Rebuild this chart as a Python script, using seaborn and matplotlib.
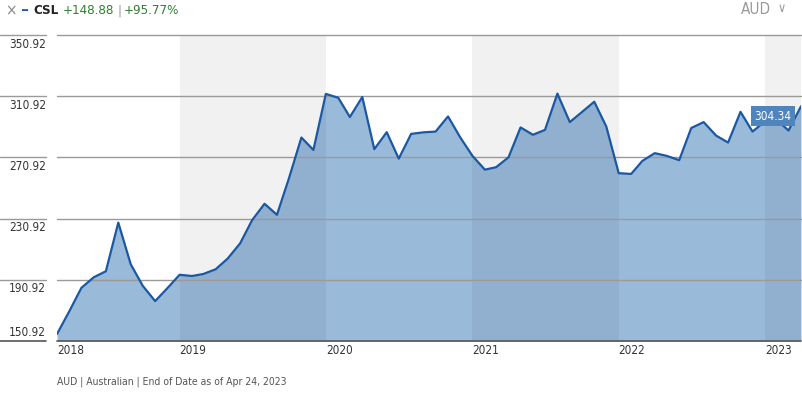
import numpy as np
import pandas as pd
import matplotlib
matplotlib.use("Agg")
import matplotlib.pyplot as plt
import matplotlib.transforms as mtransforms
import seaborn as sns

# ---------------- data ----------------
dates = pd.date_range("2018-03-01", periods=62, freq="MS")
prices = [
    155.46, 170.5, 185.7, 192.6, 196.5, 228.3, 201.1, 187.0, 177.0, 185.3,
    194.2, 193.4, 194.7, 197.8, 204.8, 214.7, 229.9, 240.6, 233.4, 257.3,
    283.9, 275.8, 312.4, 309.9, 297.3, 310.4, 276.3, 287.4, 270.1, 286.3,
    287.3, 287.8, 297.7, 284.2, 271.9, 262.9, 264.5, 271.0, 290.5, 285.7,
    288.9, 312.6, 294.0, 300.5, 307.3, 291.1, 260.6, 260.1, 268.6, 273.7,
    271.9, 269.1, 290.1, 294.0, 285.2, 280.6, 300.7, 287.8, 294.4, 295.0,
    288.5, 304.34,
]
y_ticks = [150.92, 190.92, 230.92, 270.92, 310.92, 350.92]
year_labels = ["2018", "2019", "2020", "2021", "2022", "2023"]
year_starts = pd.to_datetime(["2019-01-01", "2020-01-01", "2021-01-01",
                              "2022-01-01", "2023-01-01"])
shaded_years = [("2019-01-01", "2020-01-01"), ("2021-01-01", "2022-01-01"),
                ("2023-01-01", "2023-04-01")]
ticker = "CSL"
change_abs = "+148.88"
change_pct = "+95.77%"
currency = "AUD"
footer = "AUD | Australian | End of Date as of Apr 24, 2023"

df = pd.DataFrame({"date": dates, "price": prices})

# ---------------- style ----------------
sns.set_theme(style="white")
plt.rcParams["font.family"] = ["DejaVu Sans"]
plt.rcParams["font.stretch"] = "condensed"

W, H = 803, 393
fig = plt.figure(figsize=(W / 100, H / 100), dpi=100)
ax = fig.add_axes([57 / W, 52 / H, 744 / W, 306 / H])

LINE = "#1b58a3"
FILL = "#9abada"
GRID = "#9a9a9a"
TXT = "#333333"
GREEN = "#2e7d32"

ax.set_xlim(dates[0], dates[-1])
ax.set_ylim(y_ticks[0], y_ticks[-1])

ax.fill_between(df["date"], df["price"], y_ticks[0], color=FILL, lw=0, zorder=1)
for a, b in shaded_years:
    ax.axvspan(pd.Timestamp(a), pd.Timestamp(b), color="black", alpha=0.055,
               lw=0, zorder=2)
sns.lineplot(data=df, x="date", y="price", ax=ax, color=LINE, lw=1.6,
             zorder=4)

for s in ax.spines.values():
    s.set_visible(False)
ax.set_xlabel("")
ax.set_ylabel("")
ax.set_yticks([])
ax.tick_params(axis="both", length=0)

# gridlines extending to left edge with gap
blend = mtransforms.blended_transform_factory(ax.transAxes, ax.transData)
for v in y_ticks:
    col = "#555555" if v == y_ticks[0] else GRID
    lw = 1.2 if v == y_ticks[0] else 1.0
    ax.plot([-57 / 744, -11 / 744], [v, v], transform=blend, color=col,
            lw=lw, clip_on=False, zorder=3)
    ax.plot([0, 1], [v, v], transform=blend, color=col, lw=lw,
            clip_on=False, zorder=3)
    dy = 8.5 if v == y_ticks[0] else -9
    tr = mtransforms.offset_copy(blend, fig=fig, y=dy, units="dots")
    ax.text(-11 / 744, v, f"{v:.2f}", transform=tr, ha="right", va="center",
            fontsize=8.5, color=TXT)

# x ticks
ax.set_xticks([dates[0]] + list(year_starts))
ax.set_xticklabels(year_labels, fontsize=8.5, color=TXT, ha="left")
ax.tick_params(axis="x", pad=2)

# last value label
ax.annotate(f"{prices[-1]:.2f}", xy=(dates[-1], prices[-1]),
            xytext=(-28, -10), textcoords="offset pixels", ha="center",
            va="center", fontsize=8.5, color="white", zorder=6,
            bbox=dict(boxstyle="square,pad=0.3", fc="#4f84bd", ec="none"))

# header: place pieces one after another
renderer = fig.canvas.get_renderer()


def ftext(x, y, s, **kw):
    return fig.text(x / W, 1 - y / H, s, va="center", **kw)


x = 5
pieces = [
    ("×", dict(fontsize=11, color="#888888"), 5),
    ("━", dict(fontsize=8, color=LINE), 6),
    (ticker, dict(fontsize=9.5, color="#222222", weight="bold"), 4),
    (change_abs, dict(fontsize=9.5, color=GREEN), 3),
    ("|", dict(fontsize=9.5, color="#999999"), 3),
    (change_pct, dict(fontsize=9.5, color=GREEN), 0),
]
for s, kw, gap in pieces:
    t = ftext(x, 11, s, **kw)
    bb = t.get_window_extent(renderer)
    x += bb.width + gap

ftext(741, 9, currency, fontsize=11, color="#999999")
ftext(778, 9, "∨", fontsize=9, color="#999999")

# footer
ftext(57, 382, footer, fontsize=7.5, color="#555555")

fig.savefig("out.png", dpi=100)
